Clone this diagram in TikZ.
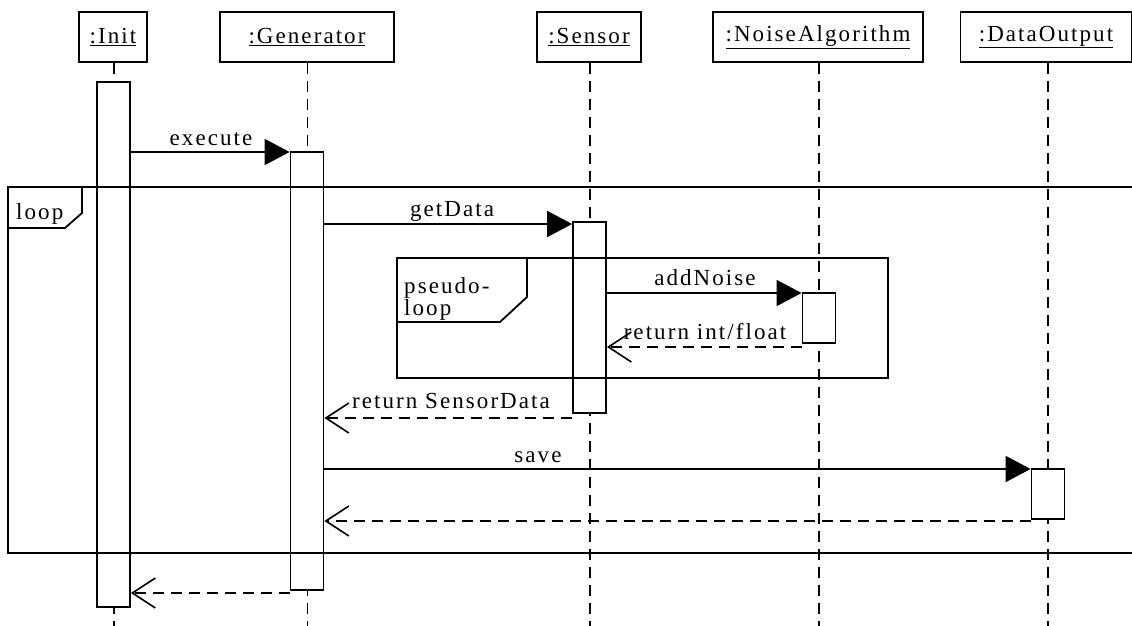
\documentclass[tikz,border=0pt]{standalone}
\usepackage{fontspec}
\setmainfont{Liberation Serif}[LetterSpace=9]
\usetikzlibrary{arrows.meta}
\newcommand\diafont{\fontsize{23}{23}\selectfont}
\tikzset{
  obj/.style={draw, line width=1.8pt, inner sep=0pt, minimum height=50pt, font=\diafont},
  act/.style={draw, fill=white, line width=1.8pt, minimum width=33pt, inner sep=0pt},
  lifeline/.style={line width=1.8pt, dash pattern=on 11pt off 7pt},
  syncmsg/.style={line width=1.8pt, -{Triangle[length=25pt,width=26pt]}},
  retmsg/.style={line width=1.8pt, dash pattern=on 11pt off 7pt, -{Straight Barb[length=23pt,width=30pt,line width=1.6pt]}},
  frameline/.style={line width=1.8pt},
  lbl/.style={font=\diafont, inner sep=0pt, anchor=base},
  lblw/.style={font=\diafont, inner sep=0pt, anchor=base west}
}
\begin{document}
\begin{tikzpicture}[x=1pt,y=-1pt]
\useasboundingbox (0,0) rectangle (1132,626);
% headers
\node[obj, minimum width=68pt] (hInit) at (113,37) {\underline{:Init}};
\node[obj, minimum width=174pt] (hGen) at (307,37) {\underline{:Generator}};
\node[obj, minimum width=104pt] (hSen) at (589,37) {\underline{:Sensor}};
\node[obj, minimum width=210pt] (hNoise) at (818,37) {\underline{:NoiseAlgorithm}};
\node[obj, minimum width=171pt] (hData) at (1046,37) {\underline{:DataOutput}};
% lifeline ends
\coordinate (eInit) at (114,626);
\coordinate (eGen) at (307.5,626);
\coordinate (eSen) at (590,626);
\coordinate (eNoise) at (819,626);
\coordinate (eData) at (1048,626);
\draw[lifeline] (hInit.south -| eInit) -- (eInit);
\draw[lifeline] (hGen.south -| eGen) -- (eGen);
\draw[lifeline] (hSen.south -| eSen) -- (eSen);
\draw[lifeline] (hNoise.south -| eNoise) -- (eNoise);
\draw[lifeline] (hData.south -| eData) -- (eData);
% activations
\node[act, minimum height=525pt] (aInit) at (113.5,344.5) {};
\node[act, minimum height=438pt] (aGen) at (307,371) {};
\node[act, minimum height=191pt] (aSen) at (589.5,317.5) {};
\node[act, minimum height=50pt] (aNoise) at (819,318) {};
\node[act, minimum height=50pt] (aData) at (1048,494) {};
% frames
\draw[frameline] (8,187) rectangle (1145,553);
\draw[frameline] (82,187) -- (82,213) -- (65,228) -- (8,228);
\node[lblw] (tLoop) at (16,219) {loop};
\draw[frameline] (397,258) rectangle (888,378);
\draw[frameline] (527,258) -- (527,297) -- (500,322) -- (397,322);
\node[lblw] (tPseudo) at (404,293) {pseudo-};
\node[lblw] (tPseudo2) at (404,315) {loop};
% messages
\draw[syncmsg] (aInit.east |- 0,152) -- (aGen.west |- 0,152);
\node[lbl] (lExec) at (211,145) {execute};
\draw[syncmsg] (aGen.east |- 0,224) -- (aSen.west |- 0,224);
\node[lbl] (lGet) at (452,216) {getData};
\draw[syncmsg] (aSen.east |- 0,293) -- (aNoise.west |- 0,293);
\node[lbl] (lAdd) at (705,285) {addNoise};
\draw[retmsg] (aNoise.west |- 0,347) -- (aSen.east |- 0,347);
\node[lbl] (lRetInt) at (705,339) {return int/float};
\draw[retmsg] (aSen.west |- 0,418) -- (aGen.east |- 0,418);
\node[lbl] (lRetSen) at (451,408) {return SensorData};
\draw[syncmsg] (aGen.east |- 0,469) -- (aData.west |- 0,469);
\node[lbl] (lSave) at (538,462) {save};
\draw[retmsg] (aData.west |- 0,521) -- (aGen.east |- 0,521);
\draw[retmsg] (aGen.west |- 0,593) -- (aInit.east |- 0,593);
\end{tikzpicture}
\end{document}
